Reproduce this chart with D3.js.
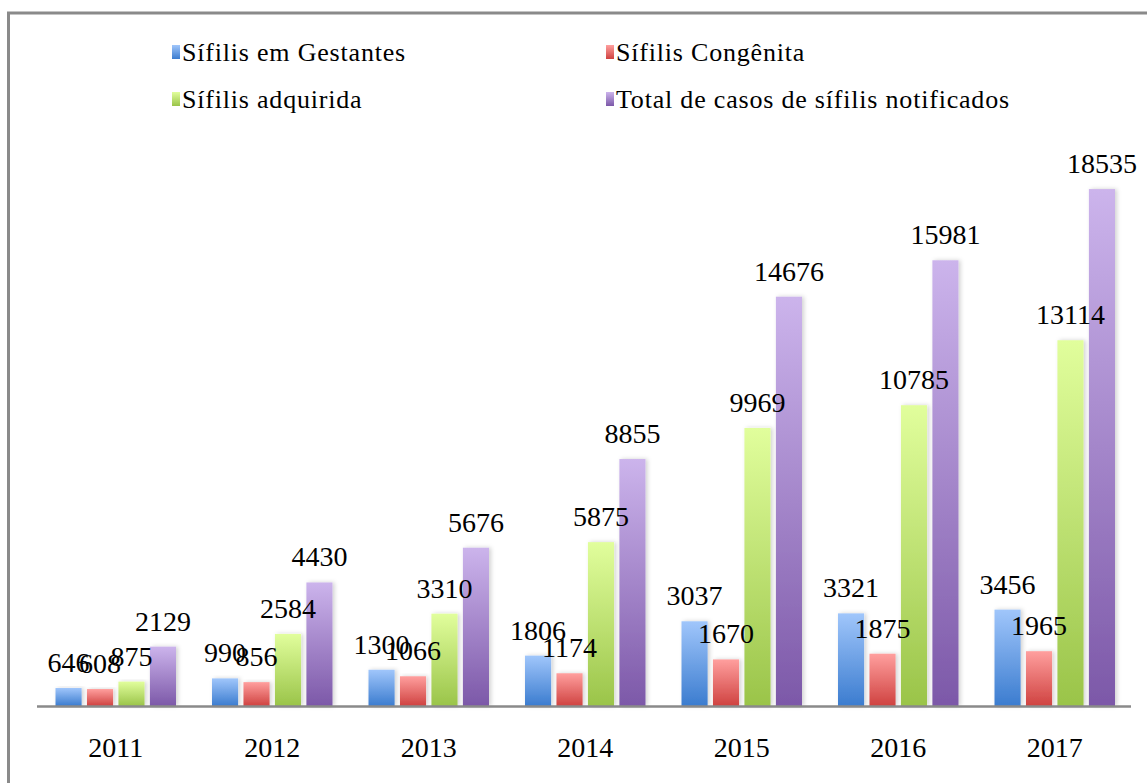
<!DOCTYPE html>
<html>
<head>
<meta charset="utf-8">
<script src="https://d3js.org/d3.v7.min.js"></script>
<style>
  body { margin: 0; background: #fff; }
  svg text { font-family: "Liberation Serif", "Times New Roman", serif; }
</style>
</head>
<body>
<div id="chart"></div>
<script>
// Data
const years = ["2011", "2012", "2013", "2014", "2015", "2016", "2017"];
const seriesNames = ["Sífilis em Gestantes", "Sífilis Congênita", "Sífilis adquirida", "Total de casos de sífilis notificados"];
const gestantes = [646, 990, 1300, 1806, 3037, 3321, 3456];
const congenita = [608, 856, 1066, 1174, 1670, 1875, 1965];
const adquirida = [875, 2584, 3310, 5875, 9969, 10785, 13114];
const total = [2129, 4430, 5676, 8855, 14676, 15981, 18535];

const seriesValues = [gestantes, congenita, adquirida, total];
const colors = [
    { top: "#a0c6fb", bottom: "#3b7ccf" },
    { top: "#ff9f9e", bottom: "#cf4240" },
    { top: "#e1fe9c", bottom: "#9ac449" },
    { top: "#ccb4ec", bottom: "#7c58a8" }
];

const W = 1147, H = 783;
const svg = d3.select("#chart").append("svg")
    .attr("width", W)
    .attr("height", H);

svg.append("rect").attr("width", W).attr("height", H).attr("fill", "#fff");

// gradients + shadow
const defs = svg.append("defs");
colors.forEach((c, i) => {
    const g = defs.append("linearGradient")
        .attr("id", "grad" + i)
        .attr("x1", 0).attr("y1", 0).attr("x2", 0).attr("y2", 1);
    g.append("stop").attr("offset", "0%").attr("stop-color", c.top);
    g.append("stop").attr("offset", "100%").attr("stop-color", c.bottom);
});
const f = defs.append("filter").attr("id", "shadow")
    .attr("x", "-30%").attr("y", "-10%").attr("width", "160%").attr("height", "120%");
f.append("feDropShadow").attr("dx", 2).attr("dy", 0).attr("stdDeviation", 2)
    .attr("flood-color", "#000").attr("flood-opacity", 0.18);

// frame
svg.append("rect")
    .attr("x", 8.5).attr("y", 13)
    .attr("width", W + 20).attr("height", H + 20)
    .attr("fill", "none")
    .attr("stroke", "#8a8a8a")
    .attr("stroke-width", 3);

// scales
const x0 = d3.scaleBand()
    .domain(years)
    .range([37.5, 1133])
    .paddingInner(0)
    .paddingOuter(0);

const x1 = d3.scaleBand()
    .domain(d3.range(4))
    .range([18, x0.bandwidth() - 18])
    .paddingInner(0.17);

const y = d3.scaleLinear()
    .domain([0, 20000])
    .range([706, 706 - 557.8]);

// bars
const groups = svg.selectAll(".grp")
    .data(years)
    .enter().append("g")
    .attr("class", "grp")
    .attr("transform", d => `translate(${x0(d)},0)`);

groups.selectAll("rect")
    .data((d, yi) => seriesValues.map((s, si) => ({ si: si, v: s[yi] })))
    .enter().append("rect")
    .attr("x", d => x1(d.si))
    .attr("y", d => y(d.v))
    .attr("width", x1.bandwidth())
    .attr("height", d => y(0) - y(d.v))
    .attr("fill", d => `url(#grad${d.si})`)
    .attr("filter", "url(#shadow)");

// axis line
svg.append("line")
    .attr("x1", 37).attr("x2", 1131)
    .attr("y1", y(0) + 0.5).attr("y2", y(0) + 0.5)
    .attr("stroke", "#8a8a8a")
    .attr("stroke-width", 2.5);

// x labels
svg.selectAll(".xlab")
    .data(years)
    .enter().append("text")
    .attr("x", d => x0(d) + x0.bandwidth() / 2)
    .attr("y", 757)
    .attr("text-anchor", "middle")
    .style("font-size", "28px")
    .attr("fill", "#000")
    .text(d => d);

// value labels
groups.selectAll(".vlab")
    .data((d, yi) => seriesValues.map((s, si) => ({ si: si, v: s[yi] })))
    .enter().append("text")
    .attr("x", d => x1(d.si) + x1.bandwidth() / 2)
    .attr("y", d => y(d.v) - 16)
    .attr("text-anchor", "middle")
    .style("font-size", "28px")
    .attr("fill", "#000")
    .text(d => d.v);

// legend
const legendPos = [
    { x: 182, y: 61 },
    { x: 616, y: 61 },
    { x: 182, y: 108 },
    { x: 616, y: 108 }
];
const legend = svg.selectAll(".leg")
    .data(seriesNames)
    .enter().append("g")
    .attr("class", "leg")
    .attr("transform", (d, i) => `translate(${legendPos[i].x},${legendPos[i].y})`);

legend.append("rect")
    .attr("x", -10).attr("y", -16)
    .attr("width", 8).attr("height", 14)
    .attr("fill", (d, i) => `url(#grad${i})`);

legend.append("text")
    .attr("x", 0).attr("y", 0)
    .style("font-size", "26px")
    .style("letter-spacing", "0.8px")
    .attr("fill", "#000")
    .text(d => d);
</script>
</body>
</html>
